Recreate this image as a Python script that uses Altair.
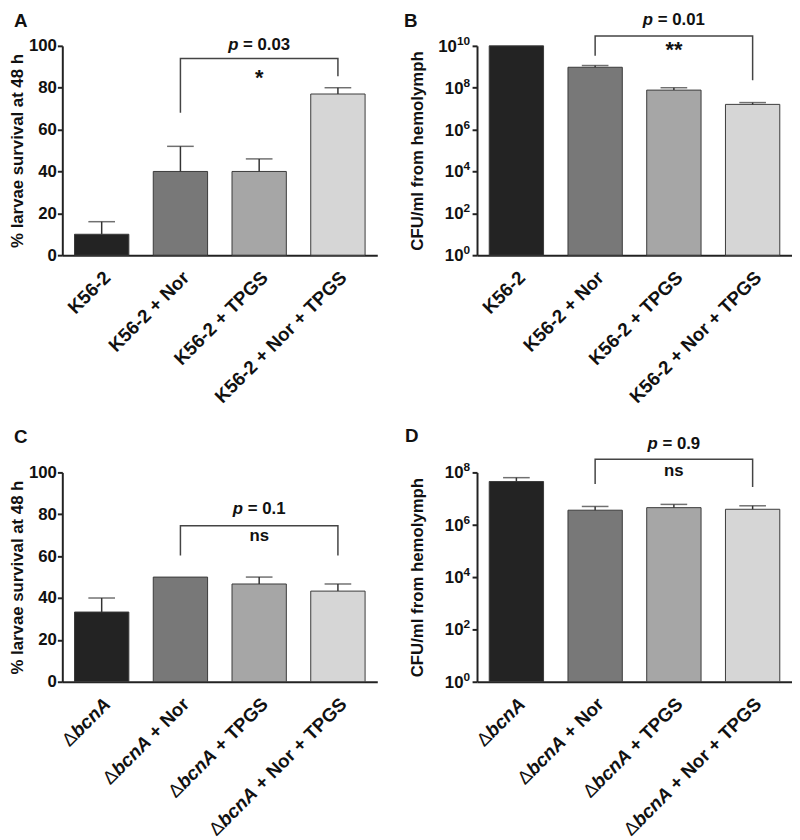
import math
import altair as alt
import pandas as pd

FONT = "Liberation Sans"
FS = 17          # axis labels / titles / annotations
XFS = 19         # rotated category labels
EFS = 12         # exponent size on log axes
W, H = 319, 212
STEP = W / 4.0
HALF_BAND = 0.69 * STEP / 2

# ---------------- data ----------------
cats_k = ["K56-2", "K56-2 + Nor", "K56-2 + TPGS", "K56-2 + Nor + TPGS"]
cats_d = ["ΔbcnA", "ΔbcnA + Nor", "ΔbcnA + TPGS", "ΔbcnA + Nor + TPGS"]

a_mean = [10, 40, 40, 77]
a_upper = [16, 52, 46, 80]
b_mean = [1e10, 9.5e8, 7.7e7, 1.6e7]
b_upper = [1e10, 1.15e9, 1.0e8, 1.95e7]
c_mean = [33.3, 50, 46.7, 43.3]
c_upper = [40, 50, 50, 46.7]
d_mean = [4.5e7, 3.6e6, 4.5e6, 3.9e6]
d_upper = [6.3e7, 5.0e6, 6.0e6, 5.3e6]

gray_top = ["#232323", "#787878", "#a6a6a6", "#d6d6d6"]
gray_bot = ["#000000", "#787878", "#a6a6a6", "#d6d6d6"]

lin_ticks = [0, 20, 40, 60, 80, 100]
log_ticks_b = [1, 1e2, 1e4, 1e6, 1e8, 1e10]
log_ticks_d = [1, 1e2, 1e4, 1e6, 1e8]

# bracket: (left leg end, top, right leg end), p-value text, significance text
a_br = [68, 94, 85.5]
a_p = ("0.03", 98.0)
a_sig = ("*", 81.5)
b_br = [10 ** 9.53, 10 ** 10.47, 10 ** 8.36]
b_p = ("0.01", 10 ** 11.0)
b_sig = ("**", 10 ** 9.45)
c_br = [60.3, 74.5, 60.3]
c_p = ("0.1", 80.0)
c_sig = ("ns", 67.2)
d_br = [10 ** 7.56, 10 ** 8.5, 10 ** 7.44]
d_p = ("0.9", 10 ** 8.88)
d_sig = ("ns", 10 ** 7.88)

# Liberation Sans Bold advance widths (em)
ADV = {" ": 0.278, "+": 0.584, "-": 0.333, "=": 0.584, ".": 0.278,
       "K": 0.722, "N": 0.722, "o": 0.611, "r": 0.389, "T": 0.611,
       "P": 0.667, "G": 0.778, "S": 0.667, "b": 0.611, "c": 0.556,
       "n": 0.611, "A": 0.722, "Δ": 0.667, "p": 0.611}


def width(s):
    return sum(ADV.get(ch, 0.556) for ch in s)


def label_rows(label):
    if label.startswith("Δ"):
        parts = [("Δ", "delta"), ("bcnA", "italic"), (label[len("ΔbcnA"):], "normal")]
    else:
        parts = [(label, "normal")]
    rows, s = [], 0.0
    for text, style in reversed(parts):
        if text.strip():
            rows.append(dict(label=label, text=text.strip(), style=style,
                             xo=HALF_BAND + 10 - 0.7071 * s * XFS, yo=0.7071 * s * XFS))
        s += width(text)
    return rows


def panel(cats, mean, upper, colors, log, ymax, ticks, ytitle, br, ptxt, sig,
          letter, lx, ly):
    X = lambda f: alt.X(f, type="nominal", sort=cats,
                        scale=alt.Scale(domain=cats, paddingInner=0.31, paddingOuter=0.155),
                        axis=alt.Axis(labels=False, ticks=False, title=None,
                                      domainColor="#222", domainWidth=2))
    if log:
        yscale = alt.Scale(type="log", domain=[1, ymax], nice=False)
        yaxis = alt.Axis(values=ticks, title=ytitle, grid=False, labels=False,
                         titlePadding=45)
    else:
        yscale = alt.Scale(domain=[0, ymax], nice=False, zero=True)
        yaxis = alt.Axis(values=ticks, title=ytitle, grid=False, labelPadding=1,
                         titlePadding=2)
    Y = lambda f: alt.Y(f, type="quantitative", scale=yscale, axis=yaxis, stack=None)

    df = pd.DataFrame({"label": cats, "mean": mean, "upper": upper, "color": colors})
    bars = alt.Chart(df).mark_bar(stroke="#3a3a3a", strokeWidth=1).encode(
        x=X("label"), y=Y("mean"),
        color=alt.Color("label:N", scale=alt.Scale(domain=cats, range=colors), legend=None))
    err_df = df[df["upper"] > df["mean"]]
    err = alt.Chart(err_df).mark_rule(color="#333", strokeWidth=1.5).encode(
        x=X("label"), y=Y("mean"), y2="upper")
    cap = alt.Chart(err_df).mark_tick(color="#333", size=27, thickness=1.5,
                                      orient="horizontal").encode(
        x=X("label"), y=Y("upper"))

    bdf = pd.DataFrame({"label": [cats[1], cats[1], cats[3], cats[3]],
                        "y": [br[0], br[1], br[1], br[2]], "o": [0, 1, 2, 3]})
    bracket = alt.Chart(bdf).mark_line(color="#444", strokeWidth=1.5).encode(
        x=X("label"), y=Y("y"), order="o:Q")

    wp, wr = width("p") * FS, width(" = " + ptxt[0]) * FS
    off = (wp - wr) / 2
    pdf = pd.DataFrame({"label": [cats[2]], "y": [ptxt[1]],
                        "p": ["p"], "rest": ["= " + ptxt[0]]})
    p1 = alt.Chart(pdf).mark_text(align="right", baseline="alphabetic", dx=off,
                                  fontSize=FS, fontWeight="bold", fontStyle="italic",
                                  font=FONT, color="#111").encode(
        x=X("label"), y=Y("y"), text="p:N")
    p2 = alt.Chart(pdf).mark_text(align="left", baseline="alphabetic", dx=off + 0.278 * FS,
                                  fontSize=FS, fontWeight="bold",
                                  font=FONT, color="#111").encode(
        x=X("label"), y=Y("y"), text="rest:N")
    sdf = pd.DataFrame({"label": [cats[2]], "y": [sig[1]], "t": [sig[0]]})
    star = alt.Chart(sdf).mark_text(align="center", baseline="alphabetic",
                                    fontSize=(FS if sig[0] == "ns" else 22), fontWeight="bold",
                                    font=FONT, color="#111").encode(
        x=X("label"), y=Y("y"), text="t:N")

    ldf = pd.DataFrame(sum([label_rows(c) for c in cats], []))
    extra = []
    for style, weight, fstyle in [("normal", "bold", "normal"),
                                  ("italic", "bold", "italic"),
                                  ("delta", "normal", "normal")]:
        if (ldf["style"] == style).any():
            extra.append(
                alt.Chart(ldf).transform_filter(alt.datum.style == style).mark_text(
                    angle=315, align="right", baseline="alphabetic", fontSize=XFS,
                    fontWeight=weight, fontStyle=fstyle, font=FONT, color="#111").encode(
                    x=X("label"), y=alt.value(H + 24),
                    xOffset=alt.XOffset("xo:Q", scale=None),
                    yOffset=alt.YOffset("yo:Q", scale=None),
                    text="text:N"))

    if log:
        exps = [str(int(round(math.log10(v)))) for v in ticks]
        tdf = pd.DataFrame({"v": ticks, "base": ["10"] * len(ticks), "exp": exps,
                            "xo": [-width(e) * EFS for e in exps]})
        extra.append(alt.Chart(tdf).mark_text(
            align="right", baseline="alphabetic", dy=-1, fontSize=EFS, fontWeight="bold",
            font=FONT, color="#111").encode(x=alt.value(-7), y=Y("v"), text="exp:N"))
        extra.append(alt.Chart(tdf).mark_text(
            align="right", baseline="middle", dy=1, fontSize=FS, fontWeight="bold",
            font=FONT, color="#111").encode(
            x=alt.value(-7), xOffset=alt.XOffset("xo:Q", scale=None),
            y=Y("v"), text="base:N"))

    let = alt.Chart(pd.DataFrame({"t": [letter]})).mark_text(
        align="left", baseline="alphabetic", fontSize=19, fontWeight="bold",
        font=FONT, color="#111").encode(x=alt.value(lx), y=alt.value(ly), text="t:N")

    return alt.layer(bars, err, cap, bracket, p1, p2, star, *extra, let).properties(
        width=W, height=H)


pa = panel(cats_k, a_mean, a_upper, gray_top, False, 100, lin_ticks,
           "% larvae survival at 48 h", a_br, a_p, a_sig, "A", -49, -19)
pb = panel(cats_k, b_mean, b_upper, gray_top, True, 1e10, log_ticks_b,
           "CFU/ml from hemolymph", b_br, b_p, b_sig, "B", -74, -19)
pc = panel(cats_d, c_mean, c_upper, gray_bot, False, 100, lin_ticks,
           "% larvae survival at 48 h", c_br, c_p, c_sig, "C", -49, -30)
pd_ = panel(cats_d, d_mean, d_upper, gray_bot, True, 1e8, log_ticks_d,
            "CFU/ml from hemolymph", d_br, d_p, d_sig, "D", -73, -31)

chart = alt.concat(pa, pb, pc, pd_, columns=2, spacing={"row": 220, "column": 101},
                   bounds="flush").properties(
    padding={"left": 0, "top": -3, "right": 0, "bottom": 0}
).configure(font=FONT).configure_view(stroke=None).configure_axis(
    labelFont=FONT, titleFont=FONT, labelFontSize=FS, titleFontSize=FS,
    labelFontWeight="bold", titleFontWeight="bold", labelColor="#111", titleColor="#111",
    domainColor="#222", domainWidth=2, tickColor="#222", tickWidth=2, tickSize=5,
    labelPadding=2, titlePadding=4)

chart.save("out.html", embed_options={"renderer": "svg", "actions": False})
